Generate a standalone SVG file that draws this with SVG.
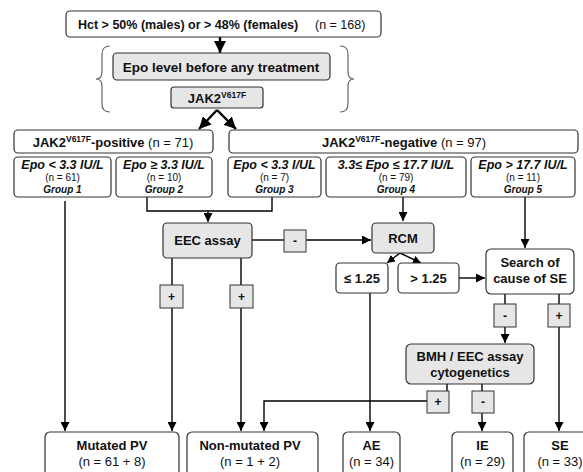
<svg xmlns="http://www.w3.org/2000/svg" width="583" height="472" viewBox="0 0 583 472">
<style>
text{font-family:"Liberation Sans",Arial,Helvetica,sans-serif;fill:#111}
.b{font-weight:bold}
.bi{font-weight:bold;font-style:italic}
.m{text-anchor:middle}
.box{fill:#fff;stroke:#333;stroke-width:1.2}
.gbox{fill:#e6e6e6;stroke:#333;stroke-width:1.2}
.sq{fill:#e6e6e6;stroke:#333;stroke-width:1}
.ln{fill:none;stroke:#000;stroke-width:1.4}
.thk{fill:none;stroke:#000;stroke-width:2.4}
.br{fill:none;stroke:#666;stroke-width:1.2}
</style>
<defs>
<marker id="ah" viewBox="0 0 10 10" refX="10" refY="5" markerWidth="9" markerHeight="9" orient="auto" markerUnits="userSpaceOnUse"><path d="M0,0 L10,5 L0,10 z" fill="#000"/></marker>
<marker id="ahs" viewBox="0 0 10 10" refX="10" refY="5" markerWidth="8" markerHeight="8" orient="auto" markerUnits="userSpaceOnUse"><path d="M0,0 L10,5 L0,10 z" fill="#000"/></marker>
<marker id="ahb" viewBox="0 0 10 10" refX="10" refY="5" markerWidth="12" markerHeight="12" orient="auto" markerUnits="userSpaceOnUse"><path d="M0,0 L10,5 L0,10 z" fill="#000"/></marker>
</defs>

<g id="connectors">
<path class="thk" d="M220 37 V53" marker-end="url(#ahb)"/>
<path class="thk" d="M217 110 L199 129" marker-end="url(#ahb)"/>
<path class="thk" d="M217 110 L236 129" marker-end="url(#ahb)"/>
<path class="ln" d="M65 201 V431" marker-end="url(#ah)"/>
<path class="ln" d="M147 197 V211 H272 V197"/>
<path class="ln" d="M208 211 V222" marker-end="url(#ah)"/>
<path class="ln" d="M403 197 V221" marker-end="url(#ah)"/>
<path class="ln" d="M525 197 V248" marker-end="url(#ah)"/>
<path class="ln" d="M252 240 H284"/>
<path class="ln" d="M306 240 H371" marker-end="url(#ah)"/>
<path class="ln" d="M172 258 V285"/>
<path class="ln" d="M172 308 V431" marker-end="url(#ah)"/>
<path class="ln" d="M241 258 V285"/>
<path class="ln" d="M241 308 V431" marker-end="url(#ah)"/>
<path class="ln" d="M400 253 L387 263" marker-end="url(#ahs)"/>
<path class="ln" d="M400 253 L421 263" marker-end="url(#ahs)"/>
<path class="ln" d="M370 293 V431" marker-end="url(#ah)"/>
<path class="ln" d="M459 278 H485" marker-end="url(#ah)"/>
<path class="ln" d="M505 294 V304"/>
<path class="ln" d="M505 327 V343" marker-end="url(#ah)"/>
<path class="ln" d="M559 294 V304"/>
<path class="ln" d="M559 327 V431" marker-end="url(#ah)"/>
<path class="ln" d="M447 384 V391"/>
<path class="ln" d="M427 401 H264 V431" stroke-width="1.1" marker-end="url(#ah)"/>
<path class="ln" d="M482 384 V391"/>
<path class="ln" d="M482 413 V431" marker-end="url(#ah)"/>
</g>

<g id="braces">
<path class="br" d="M110 46 Q102 46 102 54 L102 72 Q102 79 96 79 Q102 79 102 86 L102 104 Q102 112 110 112"/>
<path class="br" d="M340 46 Q348 46 348 54 L348 72 Q348 79 354 79 Q348 79 348 86 L348 104 Q348 112 340 112"/>
</g>

<g id="hct">
<rect class="box" x="66" y="11" width="315" height="26" rx="4"/>
<text x="78" y="28.5" font-size="12.5" class="b">Hct &gt; 50% (males) or &gt; 48% (females)</text>
<text x="315" y="28.5" font-size="12.5">(n = 168)</text>
</g>

<g id="epo">
<rect class="gbox" x="113" y="53" width="217" height="27" rx="4"/>
<text x="221" y="71.5" font-size="13.5" class="b m">Epo level before any treatment</text>
</g>

<g id="jak2">
<rect class="gbox" x="171" y="87" width="92" height="21" rx="3"/>
<text x="217" y="103" font-size="13" class="b m">JAK2<tspan dy="-5" font-size="8.5">V617F</tspan></text>
</g>

<g id="positive">
<rect class="box" x="14" y="130" width="199" height="23" rx="4"/>
<text x="113" y="147" font-size="13" class="m"><tspan class="b">JAK2</tspan><tspan class="b" dy="-5" font-size="8.5">V617F</tspan><tspan class="b" dy="5">-positive</tspan> (n = 71)</text>
</g>

<g id="negative">
<rect class="box" x="229" y="130" width="349" height="23" rx="4"/>
<text x="404" y="147" font-size="13" class="m"><tspan class="b">JAK2</tspan><tspan class="b" dy="-5" font-size="8.5">V617F</tspan><tspan class="b" dy="5">-negative</tspan> (n = 97)</text>
</g>

<g id="group1">
<rect class="box" x="14" y="157" width="97" height="40" rx="4"/>
<text x="62.5" y="169" font-size="12.5" class="bi m">Epo &lt; 3.3 IU/L</text>
<text x="62.5" y="181" font-size="10" class="m">(n = 61)</text>
<text x="62.5" y="193" font-size="10" class="bi m">Group 1</text>
</g>
<g id="group2">
<rect class="box" x="116" y="157" width="96" height="40" rx="4"/>
<text x="164" y="169" font-size="12.5" class="bi m">Epo ≥ 3.3 IU/L</text>
<text x="164" y="181" font-size="10" class="m">(n = 10)</text>
<text x="164" y="193" font-size="10" class="bi m">Group 2</text>
</g>
<g id="group3">
<rect class="box" x="228" y="157" width="93" height="40" rx="4"/>
<text x="274.5" y="169" font-size="12.5" class="bi m">Epo &lt; 3.3 I/UL</text>
<text x="274.5" y="181" font-size="10" class="m">(n = 7)</text>
<text x="274.5" y="193" font-size="10" class="bi m">Group 3</text>
</g>
<g id="group4">
<rect class="box" x="326" y="157" width="140" height="40" rx="4"/>
<text x="396" y="169" font-size="12.5" class="bi m">3.3≤ Epo ≤ 17.7 IU/L</text>
<text x="396" y="181" font-size="10" class="m">(n = 79)</text>
<text x="396" y="193" font-size="10" class="bi m">Group 4</text>
</g>
<g id="group5">
<rect class="box" x="471" y="157" width="104" height="40" rx="4"/>
<text x="523" y="169" font-size="12.5" class="bi m">Epo &gt; 17.7 IU/L</text>
<text x="523" y="181" font-size="10" class="m">(n = 11)</text>
<text x="523" y="193" font-size="10" class="bi m">Group 5</text>
</g>

<g id="eec">
<rect class="gbox" x="163" y="223" width="89" height="35" rx="4"/>
<text x="207.5" y="245" font-size="13" class="b m">EEC assay</text>
</g>
<g id="eec-minus">
<rect class="sq" x="284" y="230" width="22" height="22"/>
<text x="295" y="245" font-size="12" class="b m">-</text>
</g>
<g id="eec-plus1">
<rect class="sq" x="160" y="285" width="23" height="23"/>
<text x="171.5" y="301" font-size="12" class="b m">+</text>
</g>
<g id="eec-plus2">
<rect class="sq" x="230" y="285" width="23" height="23"/>
<text x="241.5" y="301" font-size="12" class="b m">+</text>
</g>

<g id="rcm">
<rect class="gbox" x="372" y="223" width="62" height="30" rx="4"/>
<text x="403" y="243" font-size="13" class="b m">RCM</text>
</g>
<g id="le125">
<rect class="box" x="336" y="263" width="52" height="30" rx="4"/>
<text x="362" y="283" font-size="13" class="b m">≤ 1.25</text>
</g>
<g id="gt125">
<rect class="box" x="398" y="263" width="61" height="30" rx="4"/>
<text x="428.5" y="283" font-size="13" class="b m">&gt; 1.25</text>
</g>

<g id="search">
<rect class="box" x="486" y="249" width="88" height="45" rx="5"/>
<text x="530" y="267" font-size="13" class="b m">Search of</text>
<text x="530" y="283" font-size="13" class="b m">cause of SE</text>
</g>
<g id="search-minus">
<rect class="sq" x="494" y="304" width="22" height="23"/>
<text x="505" y="320" font-size="12" class="b m">-</text>
</g>
<g id="search-plus">
<rect class="sq" x="548" y="304" width="22" height="23"/>
<text x="559" y="320" font-size="12" class="b m">+</text>
</g>

<g id="bmh">
<rect class="gbox" x="406" y="344" width="128" height="40" rx="5"/>
<text x="470" y="361" font-size="13" class="b m">BMH / EEC assay</text>
<text x="470" y="377" font-size="13" class="b m">cytogenetics</text>
</g>
<g id="bmh-plus">
<rect class="sq" x="427" y="391" width="22" height="22"/>
<text x="438" y="406" font-size="12" class="b m">+</text>
</g>
<g id="bmh-minus">
<rect class="sq" x="472" y="391" width="22" height="22"/>
<text x="483" y="406" font-size="12" class="b m">-</text>
</g>

<g id="mutated-pv">
<rect class="box" x="45" y="432" width="134" height="50" rx="5"/>
<text x="112" y="450" font-size="13" class="b m">Mutated PV</text>
<text x="112" y="466" font-size="13" class="m">(n = 61 + 8)</text>
</g>
<g id="non-mutated-pv">
<rect class="box" x="187" y="432" width="131" height="50" rx="5"/>
<text x="250" y="450" font-size="13" class="b m">Non-mutated PV</text>
<text x="250" y="466" font-size="13" class="m">(n = 1 + 2)</text>
</g>
<g id="ae">
<rect class="box" x="343" y="432" width="57" height="50" rx="5"/>
<text x="371.5" y="450" font-size="13" class="b m">AE</text>
<text x="371.5" y="466" font-size="13" class="m">(n = 34)</text>
</g>
<g id="ie">
<rect class="box" x="452" y="432" width="61" height="50" rx="5"/>
<text x="482.5" y="450" font-size="13" class="b m">IE</text>
<text x="482.5" y="466" font-size="13" class="m">(n = 29)</text>
</g>
<g id="se">
<rect class="box" x="524" y="432" width="73" height="50" rx="5"/>
<text x="560" y="450" font-size="13" class="b m">SE</text>
<text x="560" y="466" font-size="13" class="m">(n = 33)</text>
</g>
</svg>
